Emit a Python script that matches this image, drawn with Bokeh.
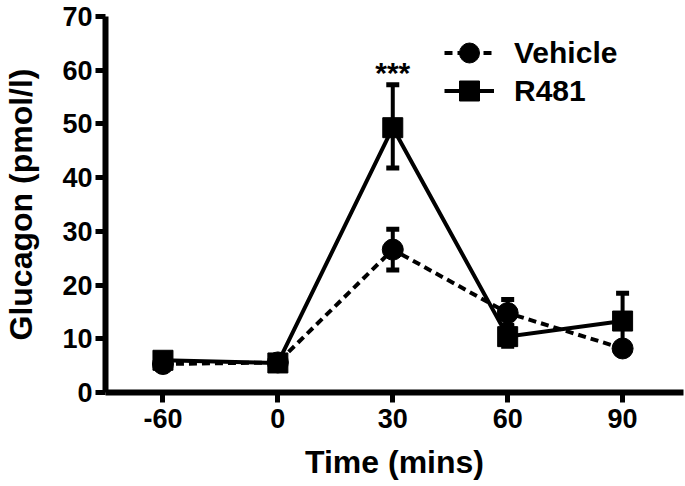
from bokeh.plotting import figure
from bokeh.models import (ColumnDataSource, Whisker, FixedTicker, Range1d, TeeHead,
                          Legend, LegendItem)
from bokeh.embed import file_html
from bokeh.resources import INLINE
from bokeh.core.properties import value

# Data
time_labels = ["-60", "0", "30", "60", "90"]
x_pos = [0, 1, 2, 3, 4]
vehicle_mean = [5.3, 5.6, 26.6, 14.8, 8.2]
vehicle_upper = [6.2, 6.3, 30.4, 17.3, 9.0]
vehicle_lower = [4.5, 4.9, 22.8, 12.5, 7.4]
r481_mean = [6.0, 5.5, 49.3, 10.4, 13.3]
r481_upper = [7.0, 6.3, 57.3, 12.3, 18.5]
r481_lower = [5.0, 4.7, 41.8, 8.6, 8.5]
y_ticks = [0, 10, 20, 30, 40, 50, 60, 70]
signif_text = ["***"]
signif_x = [2]
signif_y = [59.6]

FONT = "Liberation Sans"

p = figure(width=685, height=486, output_backend="svg", toolbar_location=None,
           x_range=Range1d(-0.5, 4.53), y_range=Range1d(0, 70),
           min_border_left=105, min_border_right=2, min_border_top=16, min_border_bottom=94)
p.outline_line_color = None
p.grid.visible = False
p.background_fill_color = "white"

veh = ColumnDataSource(dict(x=x_pos, y=vehicle_mean, up=vehicle_upper, lo=vehicle_lower))
r48 = ColumnDataSource(dict(x=x_pos, y=r481_mean, up=r481_upper, lo=r481_lower))

for src in (veh, r48):
    w = Whisker(source=src, base="x", upper="up", lower="lo",
                line_color="black", line_width=4,
                upper_head=TeeHead(size=13, line_width=5, line_color="black"),
                lower_head=TeeHead(size=13, line_width=5, line_color="black"))
    p.add_layout(w)

vl = p.line("x", "y", source=veh, line_color="black", line_width=4, line_dash="8 5")
vs = p.scatter("x", "y", source=veh, marker="circle", size=21, fill_color="black",
               line_color="black")
rl = p.line("x", "y", source=r48, line_color="black", line_width=4)
rs = p.scatter("x", "y", source=r48, marker="square", size=20, fill_color="black",
               line_color="black")

p.text(x=signif_x, y=signif_y, text=signif_text, text_font=value(FONT),
       text_font_style="bold", text_font_size="30px", text_align="center",
       text_baseline="middle", text_color="black")

# Axes
for ax in (p.xaxis[0], p.yaxis[0]):
    ax.axis_line_width = 6
    ax.axis_line_color = "black"
    ax.major_tick_line_width = 5
    ax.major_tick_line_color = "black"
    ax.major_tick_out = 10
    ax.major_tick_in = 0
    ax.minor_tick_line_color = None
    ax.major_label_text_font = FONT
    ax.major_label_text_font_style = "bold"
    ax.major_label_text_font_size = "27px"
    ax.major_label_text_color = "black"
    ax.axis_label_text_font = FONT
    ax.axis_label_text_font_style = "bold"
    ax.axis_label_text_font_size = "32px"
    ax.axis_label_text_color = "black"

p.xaxis.ticker = FixedTicker(ticks=x_pos)
p.xaxis.major_label_overrides = {xx: lab for xx, lab in zip(x_pos, time_labels)}
p.xaxis.axis_label = "Time (mins)"
p.xaxis.major_label_standoff = 6
p.xaxis.axis_label_standoff = 13

p.yaxis.ticker = FixedTicker(ticks=y_ticks)
p.yaxis.axis_label = "Glucagon (pmol/l)"
p.yaxis.major_label_standoff = 3
p.yaxis.axis_label_standoff = 20


def make_legend(label, renderers, loc):
    lg = Legend(items=[LegendItem(label=label, renderers=renderers)], location=loc)
    lg.border_line_color = None
    lg.background_fill_alpha = 0
    lg.padding = 0
    lg.margin = 0
    lg.glyph_width = 50
    lg.glyph_height = 55
    lg.label_standoff = 20
    lg.label_text_font = FONT
    lg.label_text_font_style = "bold"
    lg.label_text_font_size = "30px"
    lg.label_text_color = "black"
    p.add_layout(lg)


make_legend("Vehicle", [vl, vs], (339, 312))
make_legend("R481", [rl, rs], (339, 274))

open("out.html", "w").write(file_html(p, INLINE))
